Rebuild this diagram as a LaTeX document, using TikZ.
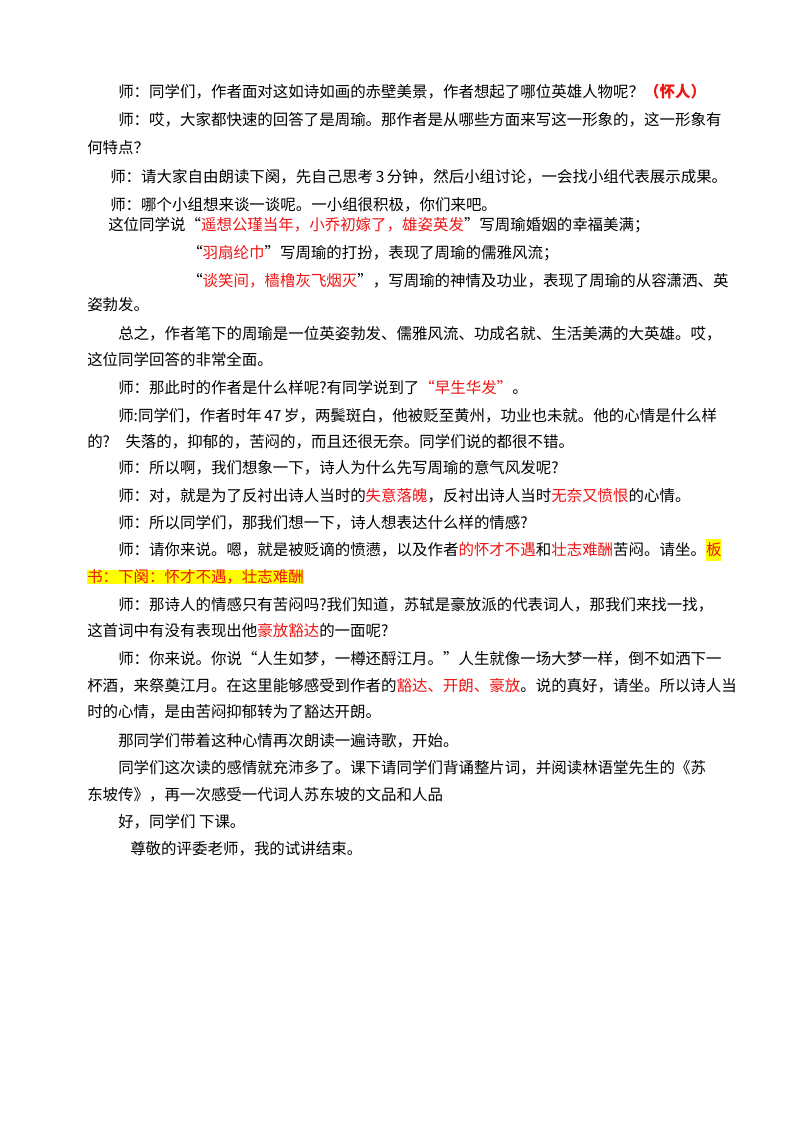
\documentclass[tikz,border=0pt]{standalone}
\usepackage{fontspec}
\setmainfont{Noto Sans CJK SC}
\definecolor{hl}{RGB}{255,255,0}
\definecolor{rd}{RGB}{240,20,20}
\newcommand{\R}[1]{\textcolor{rd}{#1}}
\begin{document}
\begin{tikzpicture}[x=0.75pt,y=-0.75pt,
  ln/.style={anchor=west,inner sep=0pt,font=\fontsize{11.6pt}{13pt}\selectfont}]
\useasboundingbox[fill=white] (0,0) rectangle (800,1132);
\node[ln] (l1) at (118,92) {师：同学们，作者面对这如诗如画的赤壁美景，作者想起了哪位英雄人物呢？\R{\textbf{（怀人）}}};
\node[ln] (l2) at (118,120) {师：哎，大家都快速的回答了是周瑜。那作者是从哪些方面来写这一形象的，这一形象有};
\node[ln] (l3) at (87,148) {何特点？};
\node[ln] (l4) at (110,177) {师：请大家自由朗读下阕，先自己思考\,3\,分钟，然后小组讨论，一会找小组代表展示成果。};
\node[ln] (l5) at (110,205) {师：哪个小组想来谈一谈呢。一小组很积极，你们来吧。};
\node[ln] (l6) at (108,225) {这位同学说“\R{遥想公瑾当年，小乔初嫁了，雄姿英发}”写周瑜婚姻的幸福美满；};
\node[ln] (l7) at (187,253) {“\R{羽扇纶巾}”写周瑜的打扮，表现了周瑜的儒雅风流；};
\node[ln] (l8) at (187,281) {“\R{谈笑间，樯橹灰飞烟灭}”，写周瑜的神情及功业，表现了周瑜的从容潇洒、英};
\node[ln] (l9) at (87,305) {姿勃发。};
\node[ln] (l10) at (118,334) {总之，作者笔下的周瑜是一位英姿勃发、儒雅风流、功成名就、生活美满的大英雄。哎，};
\node[ln] (l11) at (87,360) {这位同学回答的非常全面。};
\node[ln] (l12) at (118,388) {师：那此时的作者是什么样呢?有同学说到了\R{“早生华发”}。};
\node[ln] (l13) at (118,416) {师:同学们，作者时年\,47\,岁，两鬓斑白，他被贬至黄州，功业也未就。他的心情是什么样};
\node[ln] (l14) at (87,442) {的?\quad 失落的，抑郁的，苦闷的，而且还很无奈。同学们说的都很不错。};
\node[ln] (l15) at (118,468) {师：所以啊，我们想象一下，诗人为什么先写周瑜的意气风发呢?};
\node[ln] (l16) at (118,496) {师：对，就是为了反衬出诗人当时的\R{失意落魄}，反衬出诗人当时\R{无奈又愤恨}的心情。};
\node[ln] (l17) at (118,523) {师：所以同学们，那我们想一下，诗人想表达什么样的情感?};
\node[ln] (l18) at (118,550) {师：请你来说。嗯，就是被贬谪的愤懑，以及作者\R{的怀才不遇}和\R{壮志难酬}苦闷。请坐。\colorbox{hl}{\hspace*{-3pt}\R{板}\hspace*{-3pt}}};
\node[ln,fill=hl] (l19) at (87,577) {\R{书：下阕：怀才不遇，壮志难酬}};
\node[ln] (l20) at (118,605) {师：那诗人的情感只有苦闷吗?我们知道，苏轼是豪放派的代表词人，那我们来找一找，};
\node[ln] (l21) at (87,631) {这首词中有没有表现出他\R{豪放豁达}的一面呢?};
\node[ln] (l22) at (118,659) {师：你来说。你说“人生如梦，一樽还酹江月。”人生就像一场大梦一样，倒不如洒下一};
\node[ln] (l23) at (87,686) {杯酒，来祭奠江月。在这里能够感受到作者的\R{豁达、开朗、豪放}。说的真好，请坐。所以诗人当};
\node[ln] (l24) at (87,712) {时的心情，是由苦闷抑郁转为了豁达开朗。};
\node[ln] (l25) at (118,741) {那同学们带着这种心情再次朗读一遍诗歌，开始。};
\node[ln] (l26) at (118,768) {同学们这次读的感情就充沛多了。课下请同学们背诵整片词，并阅读林语堂先生的《苏};
\node[ln] (l27) at (87,795) {东坡传》，再一次感受一代词人苏东坡的文品和人品};
\node[ln] (l28) at (118,822) {好，同学们\ 下课。};
\node[ln] (l29) at (130,849) {尊敬的评委老师，我的试讲结束。};
\end{tikzpicture}
\end{document}
